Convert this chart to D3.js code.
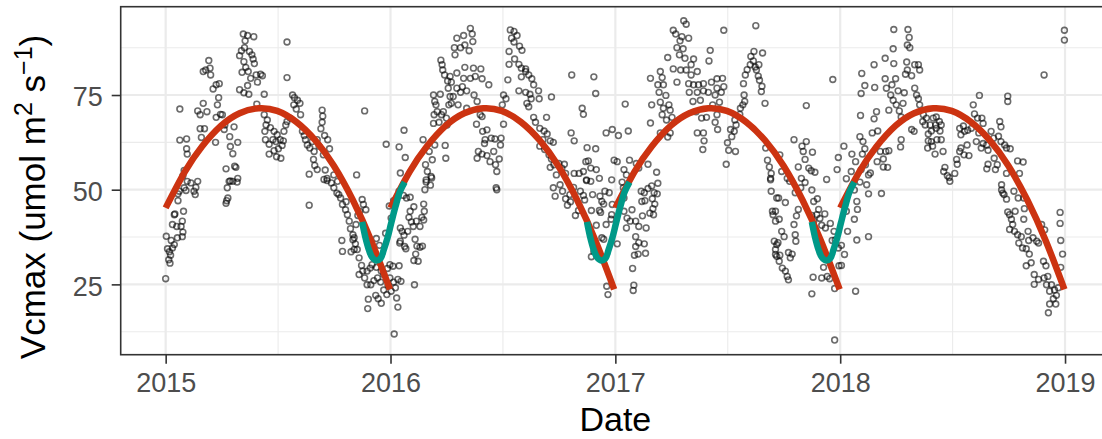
<!DOCTYPE html>
<html><head><meta charset="utf-8">
<script src="https://cdn.jsdelivr.net/npm/d3@7"></script>
<style>
body{margin:0;background:#fff}
svg{display:block}
text{font-family:"Liberation Sans",Arial,Helvetica,sans-serif}
</style>
</head><body>
<svg id="chart" width="1102" height="439"></svg>
<script>
// Observed Vcmax, [day of year, value]
const obs2015 = [
[1,37.7],[3,34.4],[6,33.6],[8,32.7],[5,31.5],[0,26.5],[7,30.6],[11,34.6],[14,35.5],[9,36.6],[19,37.3],[18,40.3],[25,40.3],[28,38.8],[27,37.6],[11,40.8],[15,43.6],[20,47.1],[29,44.3],[27,41.7],[14,43.4],[22,49.6],[30,50.5],[35,52.2],[41,51.8],[46,49.6],[49,50.6],[52,52.2],[20,48.9],[33,49.8],[48,48.7],
[98,46.4],[101,47.8],[100,50.5],[103,52.2],[109,52.2],[116,52.0],[99,47.1],[233,45.9],
[23,71.3],[23,63.1],[34,63.4],[34,60.8],[35,59.4],[30,55.1],[28,53.7],[52,70.8],[56,69.8],[61,72.8],[63,66.1],[56,66.1],[58,63.8],[67,70.6],[70,84.1],[65,81.6],[61,81.2],[72,82.1],[73,80.3],[77,76.6],[82,77.7],[87,78.0],[86,74.3],[84,72.4],[89,69.9],[92,69.8],[82,69.1],[81,62.5],[95,65.9],[96,67.1],[111,66.6],[104,64.0],[105,61.4],[109,59.5],[117,62.5],[112,56.2],[114,55.9],[98,55.5],[105,52.3],[117,53.0],
[126,91.1],[133,90.7],[143,90.4],[129,89.3],[128,87.5],[123,86.7],[120,85.4],[136,86.5],[140,85.6],[142,84.5],[144,83.3],[127,83.8],[130,82.3],[124,81.0],[134,81.2],[138,79.4],[147,80.3],[154,80.5],[157,80.1],[149,78.4],[133,77.5],[120,76.4],[127,75.6],[135,75.2],[160,75.2],[148,72.6],
[160,69.8],[165,68.4],[163,67.1],[170,66.4],[176,65.4],[181,64.5],[161,65.4],[162,63.2],[168,62.0],[174,63.2],[179,62.7],[186,63.2],[191,62.9],[189,61.7],[183,60.8],[176,60.3],[168,59.4],[180,58.7],[187,58.3],[192,65.4],[195,67.1],[197,68.0],[202,68.9],[206,75.0],[209,74.3],[214,73.6],[218,72.8],[208,72.4],[212,71.3],[219,69.8],[197,89.0],[197,79.6],
[222,65.4],[225,64.3],[227,63.2],[230,61.8],[234,61.0],[238,62.7],[241,60.1],[246,63.2],[249,61.5],[254,71.0],[255,69.4],[254,67.8],[252,66.1],[258,64.3],[263,63.2],[266,60.8],[256,59.2],[240,58.0],[242,56.4],[246,55.3],[233,54.1],[259,55.2],[262,53.0],[273,53.9],[279,52.2],[323,70.8],[358,62.0],[310,53.9],
[257,52.7],[262,52.4],[269,51.8],[273,50.5],[278,49.1],[284,47.8],[287,46.1],[292,44.7],[295,43.4],[298,41.7],[300,39.7],[304,38.1],[306,37.3],[308,35.7],[311,34.2],[314,32.0],[318,30.0],[320,28.5],[314,27.6],[323,26.7],[327,28.5],[332,29.3],[335,30.2],[327,24.9],[333,24.9],[338,26.0],[344,26.7],[349,25.6],[354,23.5],[359,22.3],[341,22.1],[345,21.2],[350,20.0],[329,21.1],[328,18.6],[306,34.2],[304,36.8],[286,36.6],[287,33.7],[301,33.6],[319,47.4],[321,46.1],[325,44.7],[315,44.3],[312,43.2],[309,40.8],[293,46.8],[281,48.7],[342,37.1],[347,35.3],[338,32.9],[342,29.5],[350,28.5],[354,27.6],[360,29.2],[364,30.2],[364,26.7],[361,24.8],[363,45.7],[357,38.5]
];
const obs2016 = [
[4,29.8],[14,29.9],[5,25.6],[12,26.3],[17,25.8],[8,24.1],[10,21.4],[12,19.0],[1,23.2],[6,11.9],[39,24.9],
[5,47.1],[14,49.6],[21,48.5],[26,47.8],[32,48.0],[38,45.5],[32,44.3],[30,42.7],[34,41.5],[37,40.3],[42,41.7],[48,40.3],[51,42.7],[54,42.0],[55,44.3],[54,46.2],[56,50.0],[58,52.0],[65,51.2],[67,53.1],[16,39.9],[19,39.0],[22,38.0],[25,34.4],[28,39.0],[15,35.9],[23,35.0],[40,36.9],[43,35.1],[48,34.8],[52,35.1],[41,33.0],[38,31.3],[45,31.1],[1,42.5],[16,36.4],
[22,65.7],[14,61.3],[24,58.5],[16,54.4],[53,63.2],[72,61.8],[89,61.7],[90,58.3],[68,57.9],[63,60.1],[57,56.6],[60,54.8],[66,53.5],[58,52.6],[82,84.2],[84,83.0],[85,81.6],[88,80.3],[93,78.7],[94,76.8],[81,75.2],[70,75.0],[72,73.3],[74,72.4],[76,70.6],[71,69.8],[83,69.8],[86,70.6],[91,68.9],[79,67.8],[70,67.5],[92,67.1],[97,74.6],[95,72.4],
[108,90.0],[104,87.5],[105,85.6],[119,90.7],[121,88.2],[130,92.6],[133,91.1],[134,89.1],[128,86.7],[114,87.5],[121,82.3],[135,82.1],[147,81.9],[108,80.8],[119,79.4],[130,79.4],[138,79.9],[149,79.3],[160,77.7],[97,79.9],[99,78.4],[108,76.8],[117,77.2],[124,76.1],[114,75.7],[102,74.6],[99,72.8],[136,75.0],[141,73.3],[124,71.5],[110,72.4],[146,69.8],[140,67.3],[150,65.4],[157,65.8],[154,63.2],[164,63.6],[170,63.4],[180,63.6],[179,61.8],[153,62.2],[143,60.1],[149,59.4],[141,58.3],[157,59.0],[162,57.4],[171,56.6],[173,54.8],[168,60.1],[177,58.1],[184,67.3],[149,69.3],
[195,92.2],[201,91.8],[206,90.7],[197,90.0],[193,86.5],[201,89.0],[210,87.9],[214,86.8],[202,84.5],[193,83.1],[209,83.1],[213,82.1],[220,81.9],[225,80.3],[213,79.8],[220,81.2],[230,79.3],[191,79.0],[233,77.7],[209,76.1],[220,75.7],[241,76.1],[227,75.2],[229,74.0],[222,72.8],[225,71.9],[242,74.0],[262,74.5],[184,75.0],[188,74.0],[182,72.4],[233,69.1],[236,67.8],[254,69.1],[243,66.2],[250,65.5],[255,64.7],[260,62.9],[265,62.5],[248,63.2],[243,61.5],[251,60.6],[258,59.2],[262,58.1],[260,55.9],[266,56.6],[274,56.9],[279,55.7],[283,56.7],[270,53.9],[285,54.3],[295,80.3],[331,79.8],[334,75.4],[312,71.5],[314,69.9],[294,65.0],[299,62.9],[320,61.1],[334,60.8],[322,57.6],[318,57.4],[326,55.7],[335,55.3],[314,54.8],[299,54.3],[307,54.3],[340,53.0],[319,52.6],[351,65.0],[361,65.9],[364,57.8],[360,52.6],
[173,50.0],[172,50.5],[265,50.5],[268,48.3],[276,51.3],[280,49.6],[285,47.6],[288,45.9],[293,46.8],[292,48.7],[298,50.6],[301,43.2],[306,44.5],[309,49.6],[314,48.5],[316,47.3],[319,52.4],[326,52.2],[329,48.7],[327,44.5],[335,40.6],[341,48.3],[344,46.9],[347,46.2],[349,49.6],[356,49.2],[340,44.5],[342,44.0],[351,40.8],[344,37.3],[347,36.9],[327,32.3],[331,33.7],[352,24.5],[354,22.3],[360,43.4],[359,42.2],[361,46.1]
];
const obs2017 = [
[5,64.3],[21,65.5],[16,72.6],[3,57.4],[23,57.8],[14,55.3],[18,53.9],[34,56.9],[38,55.7],[53,56.7],[67,54.6],
[57,79.4],[59,72.4],[57,67.6],[73,81.2],[76,79.6],[69,77.7],[71,75.7],[78,77.7],[82,74.9],[73,73.1],[78,71.5],[87,72.4],[89,71.0],[76,69.8],[83,68.4],[92,69.1],[73,65.0],[89,65.0],[85,63.9],[85,84.9],[94,92.1],[98,91.1],[111,94.6],[115,93.7],[108,90.4],[105,89.3],[119,90.0],[100,87.5],[110,87.2],[104,85.6],[113,84.7],[127,84.5],[123,83.0],[94,81.9],[106,81.6],[115,81.6],[133,81.2],[123,80.3],[100,78.4],[119,78.0],[127,77.7],[135,77.7],[143,78.0],[156,78.4],[165,79.3],[174,79.4],[152,84.0],[154,86.8],[176,92.1],[120,75.7],[133,75.7],[143,76.1],[151,75.7],[165,76.8],[172,75.7],[176,77.2],[162,75.0],[126,73.3],[138,73.6],[158,72.4],[169,73.1],[131,70.6],[140,68.9],[148,69.1],[165,69.8],[162,67.8],[166,65.9],[133,65.0],[143,65.0],[144,62.9],[142,60.6],[182,62.4],[184,60.4],[195,60.1],[180,56.7],[187,65.9],[193,65.4],[189,64.0],[196,67.1],[194,68.4],
[210,73.3],[207,72.4],[203,71.5],[202,69.9],[209,75.0],[208,78.0],[211,80.3],[214,81.7],[219,83.0],[224,84.0],[220,85.2],[225,86.5],[227,82.4],[229,81.6],[233,83.0],[239,86.1],[228,93.3],[232,80.0],[234,78.9],[238,77.3],[237,75.9],[243,72.8],[244,61.0],[247,57.8],[250,56.0],[253,54.3],[252,53.0],
[3,35.7],[11,52.0],[13,50.5],[14,47.8],[14,44.3],[19,42.5],[24,41.7],[27,44.7],[33,41.7],[38,40.3],[44,43.1],[50,39.9],[33,37.6],[38,36.0],[47,35.7],[33,35.0],[31,32.7],[37,33.0],[49,33.2],[28,29.2],[30,24.8],[29,23.4],[18,39.9],[42,49.6],[47,49.2],[53,50.3],[59,51.0],[69,51.7],[63,49.2],[60,47.6],[68,48.9],[64,46.2],[61,45.0],[62,43.4],[56,43.8],[43,46.9],[48,47.1],
[252,52.6],[253,49.6],[262,47.8],[255,44.3],[256,43.4],[260,41.7],[258,36.4],[262,35.5],[260,34.2],[262,32.4],[266,31.1],
[290,63.2],[310,72.2],[303,61.5],[305,60.1],[310,62.7],[320,59.9],[308,58.0],[297,56.0],[314,55.7],[318,55.0],[324,54.6],[302,53.0],[343,52.7],[353,79.1],[360,55.3],[362,58.5],[267,59.2],[270,54.8],[279,53.0],
[260,44.3],[265,47.8],[266,42.2],[270,39.0],[274,37.6],[264,36.0],[260,32.9],[267,32.7],[281,33.4],[287,33.0],[284,32.0],[271,29.3],[276,28.5],[279,27.1],[281,26.2],[276,46.6],[283,52.2],[292,49.2],[290,40.8],[292,38.1],[293,36.4],[294,43.1],[297,44.8],[301,50.5],[308,51.9],[319,49.9],[322,46.9],[328,47.6],[330,44.8],[327,43.4],[319,43.2],[322,41.7],[332,42.4],[335,40.6],[340,43.6],[341,39.9],[349,41.1],[355,39.0],[352,36.6],[357,36.7],[362,34.6],[363,29.9],[338,29.5],[321,26.9],[335,26.7],[344,27.1],[348,26.5],[356,23.9],[319,22.5],[356,10.3]
];
const obs2018 = [
[2,35.3],[2,30.0],[25,23.2],[7,32.9],[12,39.0],[27,36.7],[23,42.2],[27,46.9],[28,44.8],[10,44.3],[23,49.9],[32,52.0],[43,51.3],[46,48.9],[67,49.0],[46,37.6],[178,52.2],
[262,49.9],[264,49.1],[270,47.5],[272,44.1],[275,43.4],[278,42.2],[280,40.8],[275,39.5],[283,39.0],[288,38.1],[294,37.6],[290,35.9],[296,34.6],[302,34.4],[306,36.6],[313,37.3],[319,36.4],[322,35.9],[307,33.0],[310,30.7],[302,29.9],[315,27.6],[322,26.3],[315,25.0],[330,31.1],[334,29.9],[331,26.7],[337,27.1],[343,24.9],[335,24.9],[340,23.2],[348,23.5],[354,24.1],[351,22.1],[346,21.2],[340,19.8],[350,19.8],[338,17.5],[357,44.0],[357,41.1],[358,36.6],[361,33.0],[358,29.5],[284,44.3],[298,42.2],[305,39.0],[327,40.8],[332,39.4],[282,49.6],[289,47.8],[298,47.8],[299,45.0],[262,51.3],[266,48.7],
[6,61.5],[19,59.4],[10,52.9],[18,54.8],[25,57.4],[34,55.3],[32,64.0],[37,62.7],[40,60.8],[41,56.6],[46,53.9],[49,54.4],[36,59.4],[33,69.6],[34,75.4],[40,77.5],[35,80.7],[55,83.0],[56,77.0],[59,70.6],[55,68.7],[52,65.0],[61,65.5],[65,60.1],[70,58.1],[70,56.0],[77,55.9],[60,57.4],[74,60.1],[79,60.3],[73,79.3],[75,76.8],[73,84.7],[86,87.2],[87,92.3],[87,83.3],[84,77.7],[82,75.0],[86,73.6],[79,71.0],[90,79.3],[94,76.1],[96,70.8],[99,69.2],[102,72.8],[91,72.4],[104,75.6],[99,63.2],[98,61.3],[108,83.7],[109,81.6],[106,80.5],[109,88.2],[112,90.2],[110,92.3],[113,87.5],[116,80.1],[121,83.0],[127,83.0],[129,81.6],[124,75.0],[127,74.0],[129,72.4],[121,76.8],[116,65.9],[120,65.4],[135,69.8],[134,68.0],[140,68.9],[138,67.1],[146,67.1],[151,68.9],[156,69.2],[161,68.0],[155,67.1],[148,65.5],[156,66.2],[162,65.5],[164,67.1],[143,64.7],[143,62.9],[148,62.7],[157,63.2],[164,63.2],[150,61.5],[142,61.0],[154,59.4],[167,60.1],[170,55.9],[168,54.8],[174,53.7],[177,53.2],[186,54.3],[190,56.7],[189,58.0],[194,60.1],[196,61.0],[196,64.5],[194,66.2],[200,66.8],[202,65.4],[207,65.7],[213,66.2],[216,72.4],[218,70.0],[223,68.9],[226,74.9],[230,68.9],[232,67.5],[225,65.0],[221,62.7],[232,62.2],[238,61.8],[229,61.0],[240,60.4],[245,65.4],[249,63.6],[259,68.0],[261,66.6],[257,64.1],[261,62.7],[267,61.8],[272,74.7],[272,73.3],[270,61.0],[276,60.8],[250,58.3],[255,56.6],[240,56.7],[238,55.5],[252,55.3],[270,54.3],[288,57.6],[297,57.3],[291,54.3],[331,80.3],[364,92.1],[364,89.5],[206,61.8],[201,59.2],[209,59.0]
];

const years = [2015, 2016, 2017, 2018];
const observations = [obs2015, obs2016, obs2017, obs2018];

// Annual fit (day of year -> Vcmax), same for every year
const seasonDays = [0, 31, 59, 90, 120, 151, 181, 212, 243, 273, 304, 334, 364];
const seasonFit  = [45.2, 54.7, 61.4, 66.9, 70.2, 71.5, 70.8, 67.9, 63.0, 56.3, 47.2, 36.4, 23.7];

// Winter fit across the new year (days relative to 1 January)
const winterYears = [2016, 2017, 2018];
const winterDays = [-46, -41, -35, -30, -23, -16, -11, -5, 1, 8, 15, 23];
const winterFit  = [41.5, 37.6, 34.1, 32.2, 31.3, 31.9, 34.1, 37.2, 41.1, 45.5, 49.4, 52.0];

// Axis ticks and labels
const xTicks = [2015, 2016, 2017, 2018, 2019];
const xTickLabels = ["2015", "2016", "2017", "2018", "2019"];
const xMinor = [2015.5, 2016.5, 2017.5, 2018.5];
const yTicks = [25, 50, 75];
const yTickLabels = ["25", "50", "75"];
const yMinor = [12.5, 37.5, 62.5, 87.5];

const svg = d3.select("#chart");
const panel = {left: 120.7, top: 6.7, right: 1110, bottom: 354.7};

const x = d3.scaleLinear().domain([2014.8, 2019.2]).range([panel.left, panel.right]);
const y = d3.scaleLinear().domain([6.43, 98.32]).range([panel.bottom, panel.top]);

const daysIn = yr => (yr % 4 === 0 ? 366 : 365);
const decYear = (yr, d) => yr + d / daysIn(yr);

// grid
const grid = svg.append("g");
grid.selectAll(".xminor").data(xMinor).join("line")
  .attr("x1", d => x(d)).attr("x2", d => x(d))
  .attr("y1", panel.top).attr("y2", panel.bottom)
  .attr("stroke", "#EBEBEB").attr("stroke-width", 1.1);
grid.selectAll(".yminor").data(yMinor).join("line")
  .attr("x1", panel.left).attr("x2", panel.right)
  .attr("y1", d => y(d)).attr("y2", d => y(d))
  .attr("stroke", "#EBEBEB").attr("stroke-width", 1.1);
grid.selectAll(".xmajor").data(xTicks).join("line")
  .attr("x1", d => x(d)).attr("x2", d => x(d))
  .attr("y1", panel.top).attr("y2", panel.bottom)
  .attr("stroke", "#EBEBEB").attr("stroke-width", 2.2);
grid.selectAll(".ymajor").data(yTicks).join("line")
  .attr("x1", panel.left).attr("x2", panel.right)
  .attr("y1", d => y(d)).attr("y2", d => y(d))
  .attr("stroke", "#EBEBEB").attr("stroke-width", 2.2);

// observations
const pts = [];
years.forEach((yr, i) => observations[i].forEach(([d, v]) => pts.push({t: decYear(yr, d), v})));
svg.append("g").selectAll("circle").data(pts).join("circle")
  .attr("cx", d => x(d.t)).attr("cy", d => y(d.v)).attr("r", 2.9)
  .attr("fill", "none").attr("stroke", "#000").attr("stroke-opacity", 0.58)
  .attr("stroke-width", 1.6);

// annual fits
const seasonLine = d3.line().x(d => x(d.t)).y(d => y(d.v)).curve(d3.curveNatural);
svg.append("g").selectAll("path").data(years).join("path")
  .attr("d", yr => seasonLine(seasonDays.map((d, i) => ({t: decYear(yr, d), v: seasonFit[i]}))))
  .attr("fill", "none").attr("stroke", "#CC3311").attr("stroke-width", 6.5);

// winter fits
const winterLine = d3.line().x(d => x(d.t)).y(d => y(d.v)).curve(d3.curveCatmullRom.alpha(0.5));
svg.append("g").selectAll("path").data(winterYears).join("path")
  .attr("d", yr => winterLine(winterDays.map((d, i) => ({t: yr + d / 365, v: winterFit[i]}))))
  .attr("fill", "none").attr("stroke", "#009988").attr("stroke-width", 6.5);

// panel border
svg.append("rect")
  .attr("x", panel.left).attr("y", panel.top)
  .attr("width", panel.right - panel.left).attr("height", panel.bottom - panel.top)
  .attr("fill", "none").attr("stroke", "#333333").attr("stroke-width", 1.6);

// axes
const xAxis = svg.append("g").attr("transform", `translate(0,${panel.bottom})`)
  .call(d3.axisBottom(x).tickValues(xTicks).tickFormat((d, i) => xTickLabels[i]).tickSize(9).tickPadding(9).tickSizeOuter(0));
const yAxis = svg.append("g").attr("transform", `translate(${panel.left},0)`)
  .call(d3.axisLeft(y).tickValues(yTicks).tickFormat((d, i) => yTickLabels[i]).tickSize(9).tickPadding(9).tickSizeOuter(0));
[xAxis, yAxis].forEach(g => {
  g.select(".domain").remove();
  g.selectAll(".tick line").attr("stroke", "#333333").attr("stroke-width", 1.6);
  g.selectAll(".tick text").attr("fill", "#4D4D4D").attr("font-size", 27)
    .attr("font-family", "'Liberation Sans', Arial, sans-serif");
});
yAxis.selectAll(".tick text").attr("dy", "0.40em");

// axis titles
svg.append("text").attr("x", (panel.left + panel.right) / 2).attr("y", 431)
  .attr("text-anchor", "middle").attr("font-size", 34).attr("fill", "#000").text("Date");

const yt = svg.append("text").attr("transform", "translate(45,197) rotate(-90)")
  .attr("text-anchor", "middle").attr("font-size", 35).attr("fill", "#000");
yt.append("tspan").text("Vcmax (umol m");
yt.append("tspan").attr("font-size", 25).attr("dy", -13).text("2");
yt.append("tspan").attr("dy", 13).text(" s");
yt.append("tspan").attr("font-size", 25).attr("dy", -13).text("\u22121");
yt.append("tspan").attr("dy", 13).text(")");
</script>
</body></html>
